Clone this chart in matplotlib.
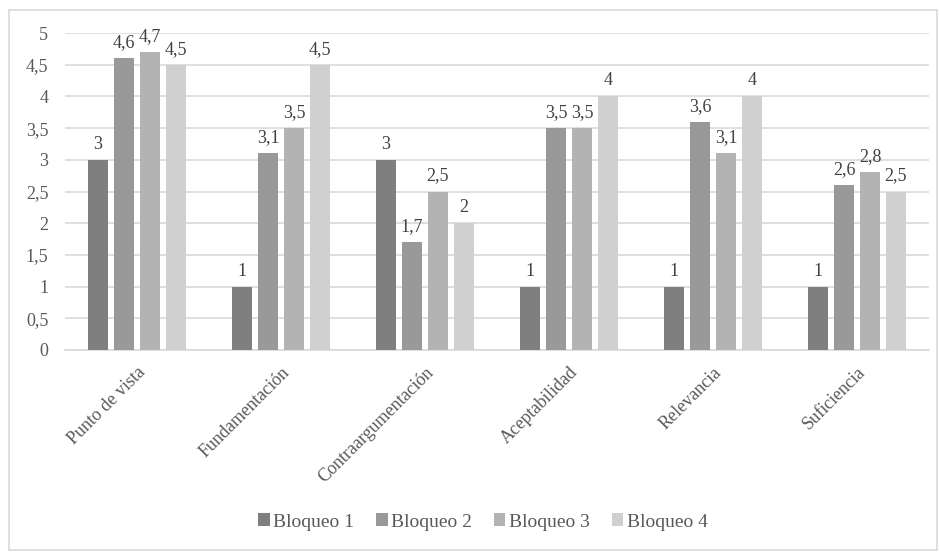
import matplotlib
matplotlib.use('Agg')
import matplotlib.pyplot as plt
import numpy as np
from matplotlib.patches import Rectangle

plt.rcParams['font.family'] = ['Liberation Serif', 'DejaVu Serif']

categorias = ['Punto de vista', 'Fundamentación', 'Contraargumentación',
              'Aceptabilidad', 'Relevancia', 'Suficiencia']
bloqueo1 = [3, 1, 3, 1, 1, 1]
bloqueo2 = [4.6, 3.1, 1.7, 3.5, 3.6, 2.6]
bloqueo3 = [4.7, 3.5, 2.5, 3.5, 3.1, 2.8]
bloqueo4 = [4.5, 4.5, 2, 4, 4, 2.5]
series = [('Bloqueo 1', bloqueo1), ('Bloqueo 2', bloqueo2),
          ('Bloqueo 3', bloqueo3), ('Bloqueo 4', bloqueo4)]
colores = ['#7f7f7f', '#999999', '#b3b3b3', '#d0d0d0']
texto = '#595959'

def fmt(v):
    # decimal comma
    s = ('%g' % v)
    return s.replace('.', ',')

fig = plt.figure(figsize=(9.39, 5.54), dpi=100)
ax = fig.add_axes([65 / 939, 1 - 350 / 554, 864 / 939, 317 / 554])

x = np.arange(len(categorias))
ancho = 0.14
paso = 0.18
for i, (nombre, vals) in enumerate(series):
    pos = x + (i - 1.5) * paso
    bars = ax.bar(pos, vals, width=ancho, color=colores[i], label=nombre, zorder=3)
    for b, v in zip(bars, vals):
        ax.annotate(fmt(v), (b.get_x() + b.get_width() / 2, v),
                    xytext=(0, 5), textcoords='offset points',
                    ha='center', va='bottom', fontsize=13, color='#404040')

ax.set_xlim(-0.5, len(categorias) - 0.5)
ax.set_ylim(0, 5)
yt = np.arange(0, 5.01, 0.5)
ax.set_yticks(yt)
ax.set_yticklabels([fmt(round(v, 1)) for v in yt], fontsize=13, color=texto)
ax.yaxis.grid(True, color='#d9d9d9', linewidth=1.2, zorder=0)
ax.set_xticks(x)
ax.set_xticklabels(categorias, rotation=45, ha='right', rotation_mode='anchor',
                   fontsize=13, color=texto)
ax.tick_params(axis='both', length=0)
ax.tick_params(axis='y', pad=12)
ax.tick_params(axis='x', pad=10)
for s in ['top', 'right', 'left']:
    ax.spines[s].set_visible(False)
ax.spines['bottom'].set_color('#d9d9d9')
ax.spines['bottom'].set_linewidth(1.2)

fig.legend(loc='center', bbox_to_anchor=(483 / 939, 1 - 522 / 554), ncol=4,
           frameon=False, fontsize=14, handlelength=0.6, handleheight=0.6,
           handletextpad=0.2, columnspacing=1.1, labelcolor=texto)

fig.patches.append(Rectangle((9 / 939, 4 / 554), 928 / 939, 540 / 554,
                             transform=fig.transFigure, fill=False,
                             edgecolor='#d9d9d9', linewidth=1.2))

fig.savefig('out.png', dpi=100, facecolor='white')
